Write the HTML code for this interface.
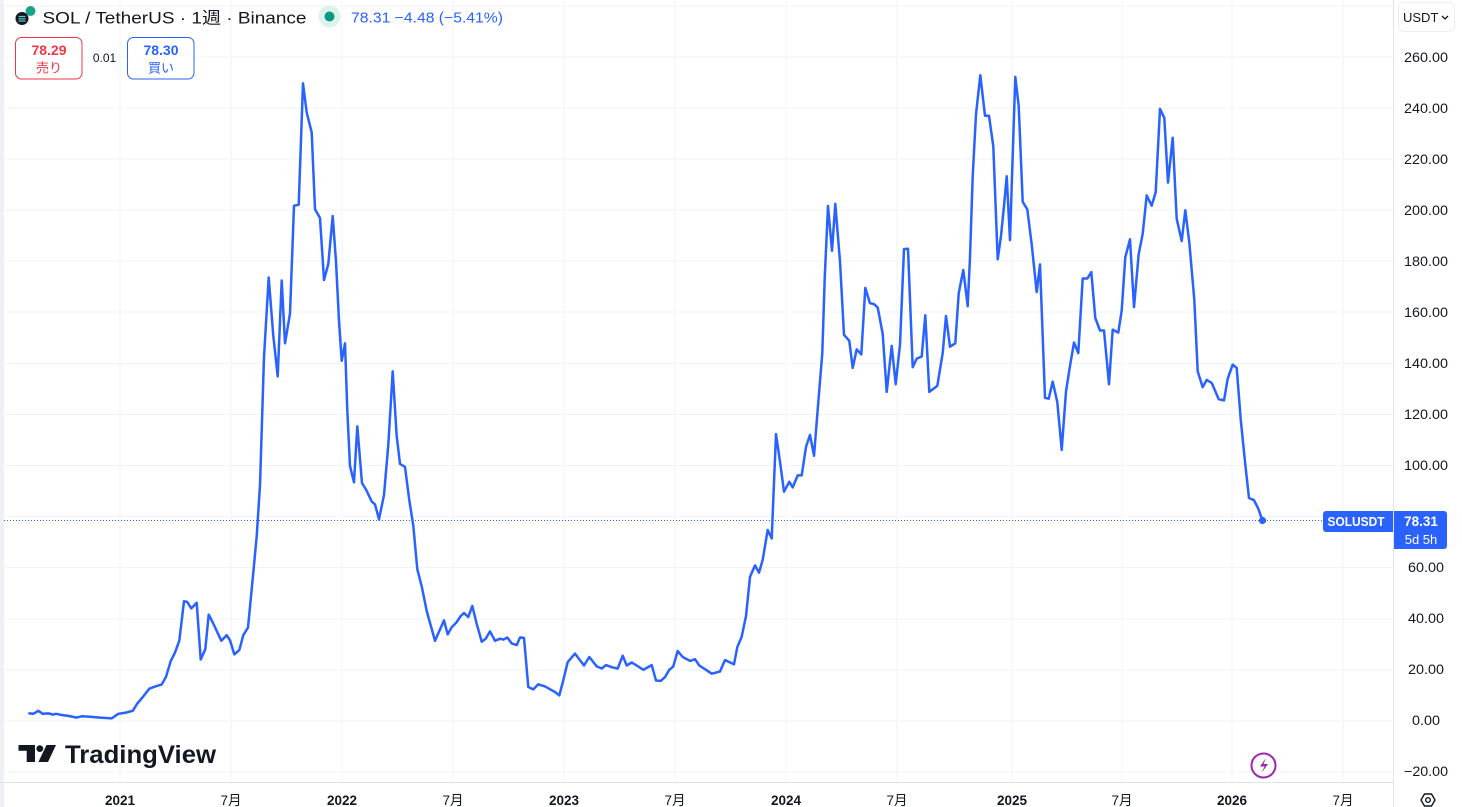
<!DOCTYPE html>
<html><head><meta charset="utf-8">
<style>
html,body{margin:0;padding:0;background:#fff;}
body{width:1462px;height:807px;overflow:hidden;position:relative;font-family:"Liberation Sans","Noto Sans CJK JP",sans-serif;}
svg{position:absolute;left:0;top:0;}
</style></head>
<body>
<svg width="1462" height="807" viewBox="0 0 1462 807" xmlns="http://www.w3.org/2000/svg" font-family="Liberation Sans, Noto Sans CJK JP, sans-serif">
<rect x="0" y="0" width="1462" height="807" fill="#fff"/>
<rect x="0" y="0" width="4" height="807" fill="#eef0f3"/>
<!-- grid -->
<g stroke="#f0f3fa" stroke-width="1">
<line x1="4" x2="1393" y1="6" y2="6"/>
<line x1="4" x2="1393" y1="57" y2="57"/>
<line x1="4" x2="1393" y1="108" y2="108"/>
<line x1="4" x2="1393" y1="159" y2="159"/>
<line x1="4" x2="1393" y1="210" y2="210"/>
<line x1="4" x2="1393" y1="261" y2="261"/>
<line x1="4" x2="1393" y1="312" y2="312"/>
<line x1="4" x2="1393" y1="363.5" y2="363.5"/>
<line x1="4" x2="1393" y1="414.5" y2="414.5"/>
<line x1="4" x2="1393" y1="465.5" y2="465.5"/>
<line x1="4" x2="1393" y1="516.5" y2="516.5"/>
<line x1="4" x2="1393" y1="567.5" y2="567.5"/>
<line x1="4" x2="1393" y1="619" y2="619"/>
<line x1="4" x2="1393" y1="670" y2="670"/>
<line x1="4" x2="1393" y1="721" y2="721"/>
<line x1="4" x2="1393" y1="772" y2="772"/>
<line x1="120" x2="120" y1="0" y2="782"/>
<line x1="231" x2="231" y1="0" y2="782"/>
<line x1="342" x2="342" y1="0" y2="782"/>
<line x1="453" x2="453" y1="0" y2="782"/>
<line x1="564" x2="564" y1="0" y2="782"/>
<line x1="675" x2="675" y1="0" y2="782"/>
<line x1="786" x2="786" y1="0" y2="782"/>
<line x1="897" x2="897" y1="0" y2="782"/>
<line x1="1012" x2="1012" y1="0" y2="782"/>
<line x1="1122" x2="1122" y1="0" y2="782"/>
<line x1="1232" x2="1232" y1="0" y2="782"/>
<line x1="1343" x2="1343" y1="0" y2="782"/>
</g>
<!-- axes borders -->
<line x1="0" x2="1393" y1="782.5" y2="782.5" stroke="#e0e3eb"/>
<line x1="1393.5" x2="1393.5" y1="0" y2="807" stroke="#e0e3eb"/>
<!-- dotted price line -->
<line x1="4" x2="1323" y1="520.5" y2="520.5" stroke="#2962ff" stroke-width="1" stroke-dasharray="1,2"/>
<!-- series -->
<polyline fill="none" stroke="#2962ff" stroke-width="2.5" stroke-linejoin="round" stroke-linecap="round" points="
29.3,713.4 33.3,713.8 38.3,710.8 42.7,713.8 48.3,713.4 53.3,714.6 56,713.8 61.7,715 68.3,715.9 76.7,717.6 81.7,716.3 90,716.7 100,717.6 111.7,718.4 118.3,713.8 126,712.6 132.7,710.8 137.3,703.6 143.3,696.4 149.3,688.7 155,686.6 161.7,684.5 166,676.8 170.7,661.2 175,652.6 179.3,640.7 184,601.2 187.3,602 191.3,608.4 196.7,602.8 200.7,659.5 205.3,649.3 208.7,614.6 213.3,623.6 221.3,640.7 226.7,635.2 230,640.3 234.3,654.4 239.3,650.1 243.3,635.2 248,627.5 252.7,578.9 256.7,536.3 260,485.1 264,357.2 268.7,277.5 273.3,335.9 277.7,376.4 281.7,280.5 285,343.3 290,313.5 294,205.7 298.7,204.8 303,83.4 306.7,112.4 311.7,132.4 315,209.2 320,218
324,280 328.3,264 332.7,216 336,261.5 339,321 341.7,360.8 345,343.3 347.3,410.6 350,466 354,482.3 357.3,426.4 362,483.1 366,489.5 371.7,501.4 375,504.4 379,519.3 384,495 388.3,444.7 392.7,371.4 396.7,436.2 400,463.9 405,466.9 409.3,500.2 413.3,525.7 417.3,569.2 421.7,586.3 426.7,611 435,640.8 439.3,631 444,620.4 447.7,634.4 451.7,627.2 456.7,622.1 460.7,616.1 464,613.1 468.3,617 472.3,605.9 476.7,623.8 481.7,641.7 485.7,638.7 490,631.4 495,640.8 500,638.7 503.3,639.6 507.3,637.5 511.7,643.4 516.7,645.1 520,637.5 524,637.9 528.3,687 533.3,689.4 538.3,684.3 545,686.4 551,689.8 555,692 559.3,695.4 562.7,682.6 567.7,662.1 575,653.6 584,665.5 589.3,657 596.7,666.4 601.7,668.5 606,665.1 611.7,667.2 617.7,668.5 622.7,655.7 626.7,665.5 631.7,662.5 636.7,665.5 643.3,669.8 651.7,665.1
656,680.5 660.7,680.9 665,677.1 669.3,669.8 673.3,666.4 677.7,651 682.7,657 690,660.9 695,659.2 699.3,665.5 706,669.8 711.7,673.7 720,671.5 725,660 729.3,662.1 734,664.3 737.3,647.2 741.7,636.6 746,616.1 750,576.9 755,565.4 759,572.6 762.7,559.8 767.7,530 771.7,538.5 776,434.1 780,461.8 784,491.6 789.3,481.8 792.7,487.4 797.7,475.4 801.7,475.4 806,446.9 810,434.9 814,455.8 818.3,402.1 822.3,353.1 824.7,278.5 828,206 832,250.8 835.3,203.9 840,261.5 844,334.8 849.3,340.8 852.7,368 856.7,349.3 861.3,354.4 865.3,287.9 870,303.2 874,304.1 877.7,307.5 882.7,333.9 886.7,391.9 891.7,345.9 895.7,384.2 900,344.6 904,249.1 908,248.7 912.7,367.2 916.7,358.6 921.7,356.5 925.3,315.2 929.3,391.9 937.3,385.9
942.7,353.1 946,316 950,346.7 955.3,343.3 958.7,293.4 963.3,270 967.7,306.2 970,257.2 972.7,176.2 976,114.4 980.3,75.2 985,115.7 989,115.7 993.3,146.4 997.7,259.3 1001,235.9 1004,206 1006.7,176.2 1010,240.1 1012.3,167.6 1015.3,76.9 1018.7,105.9 1022.7,201.8 1027.3,209.4 1031.7,244.4 1036.7,292.1 1040,264.4 1045,397.9 1048.7,398.7 1052.7,381.7 1057.3,402.1 1061.7,449.9 1066,391.5 1070,365.9 1074,342.5 1078.3,353.1 1082.7,278.5 1087.3,278.5 1091.3,272.1 1095.3,318.1 1100,330.5 1104,330.5 1109,384.2 1112.7,329.6 1118.3,332.6 1121.7,310.4 1125.3,257.2 1130,239.3 1134,307.1 1138.7,254.1 1142.7,233.7 1146.7,195.4 1151.7,205.7 1155.7,192.1 1160,108.9 1164.3,117.8 1168,182.6 1172.7,137.8 1176.7,218.8 1181.7,241 1185.3,210.3 1189.3,242.3 1194.3,299.8 1197.7,371.4 1202.7,387.2 1206.7,379.9 1211.7,382.9 1218.7,399.1 1224,400.4 1227.7,378.7 1232.7,364.6 1236.7,368 1240.7,419.2 1245,461.8 1249,498 1254,500.2 1258.3,508.7 1262.3,520.2"/>
<circle cx="1262.5" cy="520.5" r="3.6" fill="#2962ff"/>

<!-- price axis labels -->
<g font-size="13.5" fill="#131722" text-anchor="middle">
<text x="1426" y="62" textLength="44" lengthAdjust="spacingAndGlyphs">260.00</text>
<text x="1426" y="113" textLength="44" lengthAdjust="spacingAndGlyphs">240.00</text>
<text x="1426" y="164" textLength="44" lengthAdjust="spacingAndGlyphs">220.00</text>
<text x="1426" y="215" textLength="44" lengthAdjust="spacingAndGlyphs">200.00</text>
<text x="1426" y="266" textLength="44" lengthAdjust="spacingAndGlyphs">180.00</text>
<text x="1426" y="317" textLength="44" lengthAdjust="spacingAndGlyphs">160.00</text>
<text x="1426" y="368" textLength="44" lengthAdjust="spacingAndGlyphs">140.00</text>
<text x="1426" y="419" textLength="44" lengthAdjust="spacingAndGlyphs">120.00</text>
<text x="1426" y="470" textLength="44" lengthAdjust="spacingAndGlyphs">100.00</text>
<text x="1426" y="572" textLength="36" lengthAdjust="spacingAndGlyphs">60.00</text>
<text x="1426" y="623" textLength="36" lengthAdjust="spacingAndGlyphs">40.00</text>
<text x="1426" y="674" textLength="36" lengthAdjust="spacingAndGlyphs">20.00</text>
<text x="1426" y="725" textLength="28" lengthAdjust="spacingAndGlyphs">0.00</text>
<text x="1426" y="776" textLength="44" lengthAdjust="spacingAndGlyphs">−20.00</text>
</g>

<!-- USDT button -->
<rect x="1398.5" y="2.5" width="56" height="29" rx="5" fill="#fff" stroke="#eceef2"/>
<text x="1403" y="22" font-size="13" fill="#131722">USDT</text>
<path d="M1442 16 l3 3 l3 -3" fill="none" stroke="#131722" stroke-width="1.3"/>

<!-- SOLUSDT labels -->
<path d="M1326 511 h67 v21 h-67 a3 3 0 0 1 -3 -3 v-15 a3 3 0 0 1 3 -3z" fill="#2962ff"/>
<text x="1356" y="526" font-size="12.5" font-weight="bold" fill="#fff" text-anchor="middle" textLength="57" lengthAdjust="spacingAndGlyphs">SOLUSDT</text>
<path d="M1394 511 h50 a3 3 0 0 1 3 3 v32 a3 3 0 0 1 -3 3 h-50z" fill="#2962ff"/>
<text x="1421" y="526" font-size="13.5" font-weight="bold" fill="#fff" text-anchor="middle">78.31</text>
<text x="1421" y="544" font-size="13" fill="#fff" text-anchor="middle">5d 5h</text>

<!-- time axis -->
<g font-size="13.5" fill="#131722" text-anchor="middle">
<text x="120" y="805" font-weight="bold">2021</text>
<text x="231" y="805">7月</text>
<text x="342" y="805" font-weight="bold">2022</text>
<text x="453" y="805">7月</text>
<text x="564" y="805" font-weight="bold">2023</text>
<text x="675" y="805">7月</text>
<text x="786" y="805" font-weight="bold">2024</text>
<text x="897" y="805">7月</text>
<text x="1012" y="805" font-weight="bold">2025</text>
<text x="1122" y="805">7月</text>
<text x="1232" y="805" font-weight="bold">2026</text>
<text x="1343" y="805">7月</text>
</g>
<!-- settings icon -->
<path d="M1421 800 l3.5 -6 h7 l3.5 6 l-3.5 6 h-7z" fill="none" stroke="#131722" stroke-width="1.4"/>
<circle cx="1428" cy="800" r="2.3" fill="none" stroke="#131722" stroke-width="1.4"/>

<!-- lightning -->
<circle cx="1263.5" cy="765.5" r="12" fill="#fff" stroke="#9c27b0" stroke-width="2"/>
<path d="M1266 758 l-6 8.5 h4.5 l-3 6.5 l6.5 -9 h-4.5z" fill="#9c27b0"/>

<!-- TradingView logo -->
<g fill="#131722">
<path d="M18.5 745 h16.5 v17 h-8.3 v-11.2 h-8.2z"/>
<circle cx="39.8" cy="748.6" r="3.4"/>
<path d="M46.5 745 h9.5 l-8 17 h-9.6z"/>
<text x="65" y="763" font-size="25" font-weight="bold" textLength="151" lengthAdjust="spacingAndGlyphs">TradingView</text>
</g>

<!-- header -->
<circle cx="22" cy="18.5" r="6.5" fill="#131722"/>
<g stroke="#5fd0c0" stroke-width="1.2"><line x1="18.5" y1="16.5" x2="25.5" y2="16.5"/><line x1="18.5" y1="18.8" x2="25.5" y2="18.8"/><line x1="18.5" y1="21" x2="25.5" y2="21"/></g>
<circle cx="30.5" cy="11" r="5" fill="#1aa38a"/>
<text x="42.5" y="23.5" font-size="16.5" fill="#131722" textLength="264" lengthAdjust="spacingAndGlyphs">SOL / TetherUS · 1週 · Binance</text>
<circle cx="329.5" cy="16.5" r="11" fill="#dcf2ec"/>
<circle cx="329.5" cy="16.5" r="5" fill="#089981"/>
<text x="351" y="22.5" font-size="14.5" fill="#2962ff" textLength="152" lengthAdjust="spacingAndGlyphs">78.31  −4.48 (−5.41%)</text>

<rect x="15.5" y="37.5" width="66.5" height="41.5" rx="6" fill="#fff" stroke="#f23645"/>
<text x="49" y="55" font-size="14" font-weight="bold" fill="#f23645" text-anchor="middle">78.29</text>
<text x="49" y="72.5" font-size="13" fill="#f23645" text-anchor="middle">売り</text>
<text x="104.5" y="62" font-size="12" fill="#131722" text-anchor="middle">0.01</text>
<rect x="127.5" y="37.5" width="66.5" height="41.5" rx="6" fill="#fff" stroke="#2962ff"/>
<text x="161" y="55" font-size="14" font-weight="bold" fill="#2962ff" text-anchor="middle">78.30</text>
<text x="161" y="72.5" font-size="13" fill="#2962ff" text-anchor="middle">買い</text>
</svg>
</body></html>
